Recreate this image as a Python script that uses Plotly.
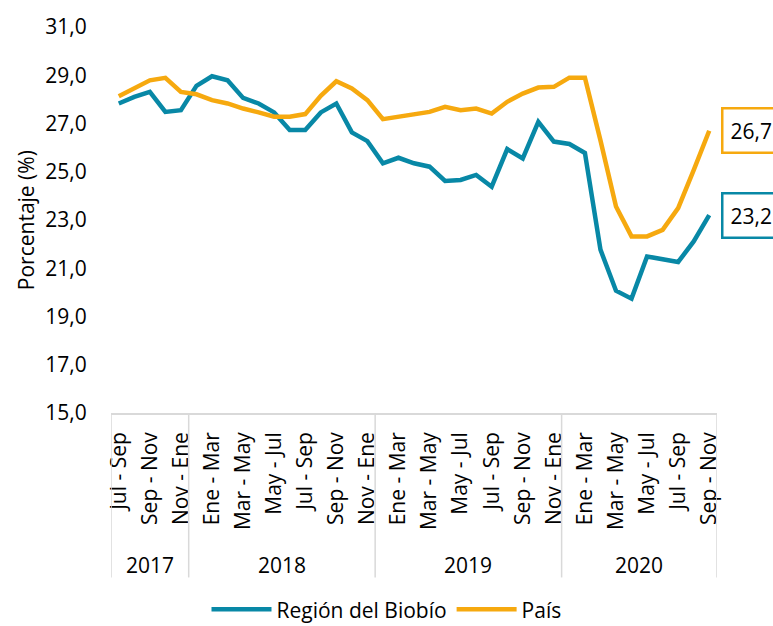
import plotly.graph_objects as go

# ---- data ----
periods = ["Jul - Sep", "Ago - Oct", "Sep - Nov", "Oct - Dic", "Nov - Ene",
           "Dic - Feb", "Ene - Mar", "Feb - Abr", "Mar - May", "Abr - Jun", "May - Jul", "Jun - Ago",
           "Jul - Sep", "Ago - Oct", "Sep - Nov", "Oct - Dic", "Nov - Ene",
           "Dic - Feb", "Ene - Mar", "Feb - Abr", "Mar - May", "Abr - Jun", "May - Jul", "Jun - Ago",
           "Jul - Sep", "Ago - Oct", "Sep - Nov", "Oct - Dic", "Nov - Ene",
           "Dic - Feb", "Ene - Mar", "Feb - Abr", "Mar - May", "Abr - Jun", "May - Jul", "Jun - Ago",
           "Jul - Sep", "Ago - Oct", "Sep - Nov"]
years = ["2017"] * 5 + ["2018"] * 12 + ["2019"] * 12 + ["2020"] * 10

biobio = [27.83, 28.10, 28.31, 27.48, 27.55,
          28.56, 28.96, 28.79, 28.06, 27.83, 27.46, 26.73,
          26.73, 27.46, 27.83, 26.63, 26.27,
          25.35, 25.58, 25.35, 25.21, 24.62, 24.66, 24.87,
          24.38, 25.94, 25.55, 27.07, 26.25,
          26.15, 25.78, 21.77, 20.07, 19.74, 21.49, 21.38,
          21.26, 22.11, 23.20]
pais = [28.13, 28.48, 28.79, 28.89, 28.31,
        28.21, 27.97, 27.83, 27.62, 27.46, 27.28, 27.28,
        27.39, 28.15, 28.75, 28.45, 27.97,
        27.18, 27.28, 27.37, 27.48, 27.69, 27.55, 27.62,
        27.41, 27.90, 28.24, 28.49, 28.52,
        28.90, 28.90, 26.30, 23.56, 22.32, 22.32, 22.59,
        23.49, 25.07, 26.70]

series_names = ["Región del Biobío", "País"]
colors = ["#0888A6", "#F6A90F"]
y_ticks = [15, 17, 19, 21, 23, 25, 27, 29, 31]

FONT = "Open Sans"
x_keys = [f"{p} {y}" for p, y in zip(periods, years)]

fig = go.Figure()
for name, vals, col in zip(series_names, [biobio, pais], colors):
    fig.add_trace(go.Scatter(x=x_keys, y=vals, mode="lines", name=name,
                             line=dict(color=col, width=4.5)))

# end-of-line value labels
for vals, col in zip([biobio, pais], colors):
    fig.add_annotation(x=x_keys[-1], y=vals[-1], xref="x", yref="y",
                       text=f"{vals[-1]:.1f}".replace(".", ","),
                       showarrow=False, xanchor="left", yanchor="middle",
                       xshift=12, bordercolor=col, borderwidth=2.5, borderpad=7,
                       bgcolor="white", font=dict(family=FONT, size=21, color="black"))

# group (year) labels and separators
groups = []
for i, y in enumerate(years):
    if not groups or groups[-1][0] != y:
        groups.append([y, i, i])
    else:
        groups[-1][2] = i

sep_bottom = -0.426
bounds = sorted({g[1] - 0.5 for g in groups} | {groups[-1][2] + 0.5})
for b in bounds:
    fig.add_shape(type="line", xref="x", yref="paper", x0=b, x1=b, y0=0, y1=sep_bottom,
                  line=dict(color="#D9D9D9", width=1.5))
for y, a, b in groups:
    fig.add_annotation(x=(a + b) / 2, y=-0.393, xref="x", yref="paper", text=y,
                       showarrow=False, xanchor="center", yanchor="middle",
                       font=dict(family=FONT, size=21, color="black"))

# y axis title
fig.add_annotation(x=-0.140, y=0.5, xref="paper", yref="paper", text="Porcentaje (%)",
                   textangle=-90, showarrow=False, xanchor="center", yanchor="middle",
                   font=dict(family=FONT, size=21, color="black"))

fig.update_layout(
    width=773, height=626,
    margin=dict(l=111, r=56, t=25, b=213),
    paper_bgcolor="white", plot_bgcolor="white",
    separators=", ",
    font=dict(family=FONT, size=21, color="black"),
    showlegend=True,
    legend=dict(orientation="h", xref="container", yref="container",
                x=0.5, xanchor="center", y=0.026, yanchor="middle",
                font=dict(family=FONT, size=21, color="black"), itemwidth=60),
)
fig.update_xaxes(type="category", categoryorder="array", categoryarray=x_keys,
                 range=[-0.5, len(x_keys) - 0.5],
                 tickvals=x_keys[::2], ticktext=periods[::2], tickangle=-90,
                 ticks="outside", ticklen=9, tickcolor="rgba(0,0,0,0)",
                 showline=True, linecolor="#D9D9D9", linewidth=1.5,
                 showgrid=False, zeroline=False,
                 tickfont=dict(family=FONT, size=21, color="black"))
fig.update_yaxes(range=[15, 31], tickvals=y_ticks, tickformat=".1f",
                 ticks="outside", ticklen=19, tickcolor="rgba(0,0,0,0)",
                 showline=False, showgrid=False, zeroline=False,
                 tickfont=dict(family=FONT, size=21, color="black"))

fig.write_html("out.html", config={"displayModeBar": False},
               post_script="document.body.style.margin='0';document.body.style.overflow='hidden';")
